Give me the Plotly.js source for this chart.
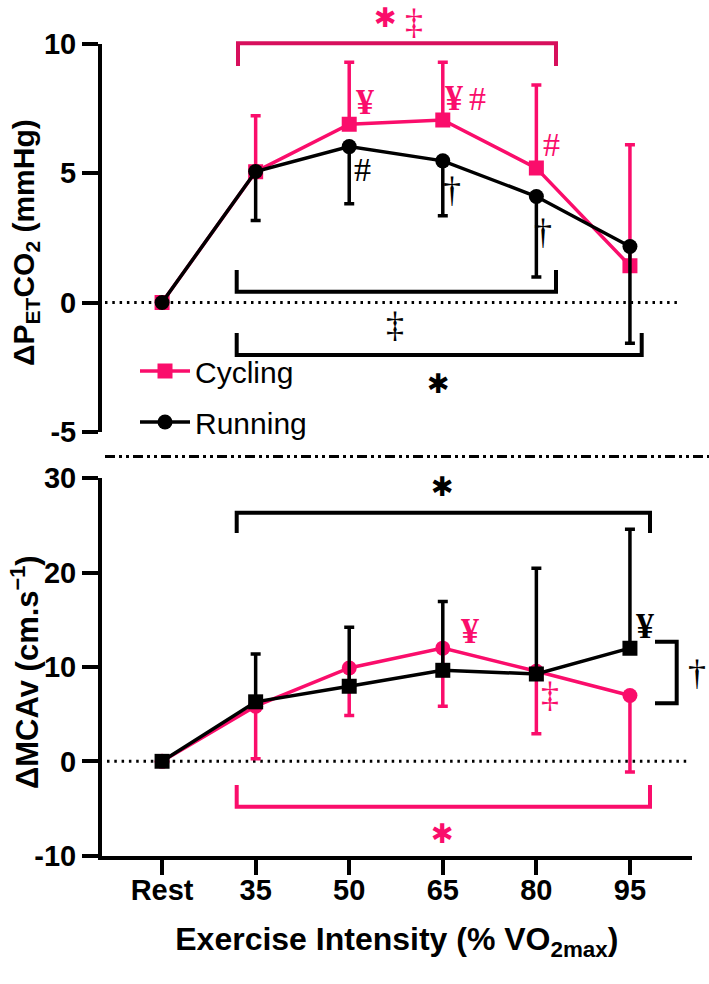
<!DOCTYPE html>
<html><head><meta charset="utf-8">
<script src="https://cdn.plot.ly/plotly-3.0.1.min.js"></script>
<style>html,body{margin:0;padding:0;background:#fff}</style>
</head><body><div id="chart" style="width:709px;height:984px"></div>
<script>
// ---- data ----
const intensities = ['Rest', '35', '50', '65', '80', '95'];
// Top panel: ΔPETCO2 (mmHg)
const petco2Cycling   = [0, 5.05, 6.88, 7.05, 5.19, 1.42];
const petco2CyclingSD = [0, 2.16, 2.40, 2.23, 3.21, 4.67];
const petco2Running   = [0, 5.06, 6.02, 5.47, 4.09, 2.16];
const petco2RunningSD = [0, 1.89, 2.21, 2.12, 3.11, 3.73];
// Bottom panel: ΔMCAv (cm.s-1)
const mcavCycling   = [0, 5.85, 9.90, 12.00, 9.55, 6.98];
const mcavCyclingSD = [0, 5.57, 5.04, 6.15, 6.62, 8.11];
const mcavRunning   = [0, 6.31, 7.96, 9.65, 9.27, 12.00];
const mcavRunningSD = [0, 5.07, 6.24, 7.30, 11.20, 12.60];
const yTicksTop = [-5, 0, 5, 10];
const yTicksBottom = [-10, 0, 10, 20, 30];

// ---- styling ----
const PINK = '#FA0D6B';
const PINK_DARK = '#D70F5C';
const BLACK = '#000000';
const W = 709, H = 984;
const px = v => v / W;
const py = v => 1 - v / H;
const none = a => a.map(() => 0);
const SANS = 'Liberation Sans, Arial, sans-serif';
const SERIF = 'Liberation Serif, Times New Roman, serif';

function trace(x, y, sd, up, color, symbol, xa, ya, name, showlegend) {
  return {
    type: 'scatter', mode: 'lines+markers', x: x, y: y, name: name,
    xaxis: xa, yaxis: ya, showlegend: showlegend, legendgroup: name,
    line: {color: color, width: 3.5},
    marker: {color: color, symbol: symbol, size: 15},
    error_y: {type: 'data', symmetric: false,
      array: up ? sd : none(sd), arrayminus: up ? none(sd) : sd,
      color: color, thickness: 3.5, width: 5}
  };
}

const data = [
  trace(intensities, petco2Cycling, petco2CyclingSD, true, PINK, 'square', 'x2', 'y2', 'Cycling', true),
  trace(intensities, petco2Running, petco2RunningSD, false, BLACK, 'circle', 'x2', 'y2', 'Running', true),
  trace(intensities, mcavCycling, mcavCyclingSD, false, PINK, 'circle', 'x', 'y', 'Cycling', false),
  trace(intensities, mcavRunning, mcavRunningSD, true, BLACK, 'square', 'x', 'y', 'Running', false)
];

const tickFont = {family: SANS, size: 29, color: '#000', weight: 'bold'};
const xDomain = [px(102), px(691.7)];
const xRange = [-0.642, 5.66];

function bracketPath(pts) {
  return pts.map((p, i) => (i ? 'L' : 'M') + px(p[0]).toFixed(5) + ',' + py(p[1]).toFixed(5)).join(' ');
}
function bracket(pts, color) {
  return {type: 'path', xref: 'paper', yref: 'paper', path: bracketPath(pts),
    line: {color: color, width: 4}, layer: 'above'};
}
function label(text, x, y, color, font, size, bold, yanchor) {
  return {xref: 'paper', yref: 'paper', x: px(x), y: py(y), text: text, showarrow: false,
    xanchor: 'center', yanchor: yanchor || 'middle',
    font: {family: font, size: size, color: color, weight: bold ? 'bold' : 'normal'}};
}

const layout = {
  width: W, height: H,
  margin: {l: 0, r: 0, t: 0, b: 0},
  paper_bgcolor: '#fff', plot_bgcolor: 'rgba(0,0,0,0)',
  showlegend: true,
  legend: {x: px(135), y: py(345), xanchor: 'left', yanchor: 'top',
    bgcolor: 'rgba(0,0,0,0)', font: {family: SANS, size: 30, color: '#000'},
    itemwidth: 50, tracegroupgap: 9, traceorder: 'grouped'},
  xaxis: {type: 'category', domain: xDomain, range: xRange, anchor: 'y',
    showline: true, linecolor: '#000', linewidth: 4, ticks: 'outside', ticklen: 15,
    tickwidth: 4, tickcolor: '#000', showgrid: false, zeroline: false,
    tickfont: tickFont, ticklabelstandoff: -10,
    title: {text: 'Exercise Intensity (% VO<sub>2max</sub>)', standoff: 24,
      font: {family: SANS, size: 32, color: '#000', weight: 'bold'}}},
  xaxis2: {type: 'category', domain: xDomain, range: xRange, anchor: 'y2', visible: false,
    showgrid: false, zeroline: false},
  yaxis: {domain: [py(855.7), py(478.3)], range: [-10, 30], anchor: 'x',
    tickvals: yTicksBottom, ticktext: yTicksBottom.map(String),
    showline: true, linecolor: '#000', linewidth: 4, ticks: 'outside', ticklen: 16,
    tickwidth: 4, tickcolor: '#000', showgrid: false, zeroline: false, tickfont: tickFont},
  yaxis2: {domain: [py(432), py(43.5)], range: [-5, 10], anchor: 'x2',
    tickvals: yTicksTop, ticktext: yTicksTop.map(String),
    showline: true, linecolor: '#000', linewidth: 4, ticks: 'outside', ticklen: 16,
    tickwidth: 4, tickcolor: '#000', showgrid: false, zeroline: false, tickfont: tickFont},
  shapes: [
    // zero reference lines
    {type: 'line', xref: 'paper', yref: 'y2', x0: px(105), x1: px(680), y0: 0, y1: 0,
      line: {color: '#000', width: 3, dash: '2.5px,4.8px'}, layer: 'below'},
    {type: 'line', xref: 'paper', yref: 'y', x0: px(107), x1: px(688), y0: 0, y1: 0,
      line: {color: '#000', width: 3, dash: '2.5px,4.8px'}, layer: 'below'},
    // panel separator
    {type: 'line', xref: 'paper', yref: 'paper', x0: px(105), x1: 1, y0: py(456.5), y1: py(456.5),
      line: {color: '#000', width: 3, dash: '10px,4px,3px,4px,3px,4px'}},
    // top panel brackets
    bracket([[238, 66], [238, 43.3], [556, 43.3], [556, 66]], PINK_DARK),
    bracket([[236.7, 270], [236.7, 291.7], [556, 291.7], [556, 270]], BLACK),
    bracket([[236.7, 333], [236.7, 355], [641.7, 355], [641.7, 333]], BLACK),
    // bottom panel brackets
    bracket([[236.7, 533], [236.7, 512.7], [650, 512.7], [650, 533]], BLACK),
    bracket([[236.7, 785], [236.7, 806.7], [650, 806.7], [650, 785]], PINK),
    bracket([[655, 641.7], [676.7, 641.7], [676.7, 703.3], [655, 703.3]], BLACK)
  ],
  annotations: [
    // y axis titles
    {xref: 'paper', yref: 'paper', x: px(25), y: py(243), textangle: -90, showarrow: false,
      xanchor: 'center', yanchor: 'middle', text: 'ΔP<sub>ET</sub>CO<sub>2</sub> (mmHg)',
      font: {family: SANS, size: 30, color: '#000', weight: 'bold'}},
    {xref: 'paper', yref: 'paper', x: px(25), y: py(672), textangle: -90, showarrow: false,
      xanchor: 'center', yanchor: 'middle', text: 'ΔMCAv (cm.s<sup>−1</sup>)',
      font: {family: SANS, size: 31, color: '#000', weight: 'bold'}},
    // top panel significance marks
    label('✱', 385.7, 0, PINK, 'DejaVu Sans', 27, true, 'top'),
    label('‡', 414, 0, PINK, SERIF, 36, false, 'top'),
    label('¥', 365, 102.5, PINK, SERIF, 36, true),
    label('¥', 454, 98, PINK, SERIF, 36, true),
    label('#', 477.7, 99, PINK, SERIF, 34, false),
    label('#', 551, 144, PINK, SERIF, 34, false),
    label('#', 362, 170, BLACK, SERIF, 34, false),
    label('†', 452, 190, BLACK, SERIF, 36, false),
    label('†', 543, 232, BLACK, SERIF, 36, false),
    label('‡', 395, 325, BLACK, SERIF, 36, false),
    label('✱', 438.3, 383.3, BLACK, 'DejaVu Sans', 27, true),
    // bottom panel significance marks
    label('✱', 442.7, 486.7, BLACK, 'DejaVu Sans', 27, true),
    label('¥', 645, 626, BLACK, SERIF, 36, true),
    label('¥', 470, 631, PINK, SERIF, 36, true),
    label('‡', 550, 695, PINK, SERIF, 36, false),
    label('†', 697, 673, BLACK, SERIF, 36, false),
    label('✱', 442.7, 833, PINK, 'DejaVu Sans', 27, true)
  ]
};

Plotly.newPlot('chart', data, layout, {displayModeBar: false, staticPlot: true});
</script>
</body></html>
